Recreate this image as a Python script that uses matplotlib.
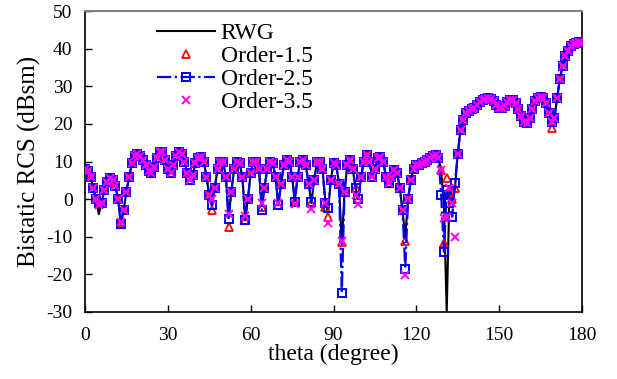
import matplotlib
matplotlib.use("Agg")
import matplotlib.pyplot as plt
import numpy as np

theta = list(range(0, 181))

rwg = [8, 7.5, 6, 3, 0, -4, -1, 2.5, 4.5, 5.5,
       5, 3.5, 0, -6.5, -3, 2, 6, 9.5, 11.5, 12,
       11.5, 10.5, 9, 7.5, 7, 8.5, 11, 12.5, 12.5, 10.5,
       8, 7, 9, 11.5, 12.5, 12, 10, 7, 5, 6.5,
       9.5, 11, 11.3, 10, 6, 1, -2, 3, 8, 10,
       10, 6, -5, 2, 8, 10, 9.5, 6, -5, 0,
       7, 10, 10, 8, -1, 3, 8, 10, 9.5, 6,
       -1.5, 4, 9, 10.5, 10, 6, -0.5, 6, 10, 10.3,
       9, 4, -1, 5, 10, 10, 8, 0, -4, 5,
       9.5, 9, 4, -12, 2, 9, 10.3, 8, 3, 0,
       6, 10, 11.7, 10, 6, 8, 11, 11.3, 10, 6,
       4.3, 6, 7.7, 7, 3, -3, -10, 0, 5, 8,
       9, 9, 9.5, 10, 10.5, 11, 11.5, 11.7, 11, 7.7,
       -2, -30, 2, -1, 3, 12, 18.5, 21, 23, 23.5,
       24, 24.3, 25, 25.7, 26.3, 26.7, 26.9, 26.7, 26, 25,
       24.3, 24.1, 24.8, 25.8, 26.3, 26.3, 25.5, 24, 22, 20.5,
       20.2, 21.5, 24, 26, 27, 27.2, 27, 25.5, 23, 20.5,
       21.5, 27, 32, 35.5, 38, 39.5, 40.8, 41.3, 41.6, 41.7, 41.6]

order15 = [8, 7.5, 6, 3, 0, -1, -1, 2.5, 4.5, 5.5,
           5, 3.5, 0, -6, -3, 2, 6, 9.5, 11.5, 12,
           11.5, 10.5, 9, 7.5, 7, 8.5, 11, 12.5, 12.5, 10.5,
           8, 7, 9, 11.5, 12.5, 12, 10, 7, 5, 6.5,
           9.5, 11, 11.3, 10, 6, 1, -3, 3, 8, 10,
           10, 6, -7.5, 2, 8, 10, 9.5, 6, -5.5, 0,
           7, 10, 10, 8, -2, 3, 8, 10, 9.5, 6,
           -1.5, 4, 9, 10.5, 10, 6, -0.5, 6, 10, 10.3,
           9, 4, -1, 5, 10, 10, 8, -2, -4.7, 5,
           9.5, 9, 4, -11.5, 2, 9, 10.3, 8, 3, 0,
           6, 10, 11.7, 10, 6, 8, 11, 11.3, 10, 6,
           4.3, 6, 7.7, 7, 3, -3, -11, 0, 5, 8,
           9, 9, 9.5, 10, 10.5, 11, 11.5, 11.7, 11, 7.7,
           -11.7, 5.6, 2, 0, 3, 12, 18.5, 21, 23, 23.5,
           24, 24.3, 25, 25.7, 26.3, 26.7, 26.9, 26.7, 26, 25,
           24.3, 24.1, 24.8, 25.8, 26.3, 26.3, 25.5, 24, 22, 20.5,
           20.2, 21.5, 24, 26, 27, 27.2, 27, 25.5, 23, 18.8,
           21.5, 27, 32, 35.5, 38, 39.5, 40.8, 41.3, 41.6, 41.7, 41.6]

order25 = [8, 7.5, 6, 3, 0, -1, -1, 2.5, 4.5, 5.5,
           5, 3.5, 0, -6.5, -3, 2, 6, 9.5, 11.5, 12,
           11.5, 10.5, 9, 7.5, 7, 8.5, 11, 12.5, 12.5, 10.5,
           8, 7, 9, 11.5, 12.5, 12, 10, 7, 5, 6.5,
           9.5, 11, 11.3, 10, 6, 1, -1.6, 3, 8, 10,
           10, 6, -5.3, 2, 8, 10, 9.5, 6, -5.6, 0,
           7, 10, 10, 8, -3, 3, 8, 10, 9.5, 6,
           -1.6, 4, 9, 10.5, 10, 6, -0.7, 6, 10, 10.3,
           9, 4, -0.7, 5, 10, 10, 8, -1, -2.4, 5,
           9.5, 9, 4, -25, 2, 9, 10.3, 8, 3, 0,
           6, 10, 11.7, 10, 6, 8, 11, 11.3, 10, 6,
           4.3, 6, 7.7, 7, 3, -3, -18.5, 0, 5, 8,
           9, 9, 9.5, 10, 10.5, 11, 11.5, 11.7, 11, 1,
           -14, 2.4, -1, -4.7, 4.3, 12, 18.5, 21, 23, 23.5,
           24, 24.3, 25, 25.7, 26.3, 26.7, 26.9, 26.7, 26, 25,
           24.3, 24.1, 24.8, 25.8, 26.3, 26.3, 25.5, 24, 22, 20.5,
           20.2, 21.5, 24, 26, 27, 27.2, 27, 25.5, 23, 20.5,
           21.5, 27, 32, 35.5, 38, 39.5, 40.8, 41.3, 41.6, 41.7, 41.6]

order35 = [8, 7.5, 6, 3, 0, -1.5, -1, 2.5, 4.5, 5.5,
           5, 3.5, 0, -6, -3, 2, 6, 9.5, 11.5, 12,
           11.5, 10.5, 9, 7.5, 7, 8.5, 11, 12.5, 12.5, 10.5,
           8, 7, 9, 11.5, 12.5, 12, 10, 7, 5, 6.5,
           9.5, 11, 11.3, 10, 6, 1, 0, 3, 8, 10,
           10, 6, -4, 2, 8, 10, 9.5, 6, -4.5, 0,
           7, 10, 10, 8, -1, 3, 8, 10, 9.5, 6,
           -1, 4, 9, 10.5, 10, 6, -1.3, 6, 10, 10.3,
           9, 4, -2.5, 5, 10, 10, 8, -1, -6.4, 5,
           9.5, 9, 4, -11, 2, 9, 10.3, 8, 1, -1.3,
           6, 10, 11.7, 10, 6, 8, 11, 11.3, 10, 6,
           4.3, 6, 7.7, 7, 3, -3, -20.2, 0, 5, 8,
           9, 9, 9.5, 10, 10.5, 11, 11.5, 11.7, 11, 7.7,
           -5, -4.7, 3, -1, -10, 12, 18.5, 21, 23, 23.5,
           24, 24.3, 25, 25.7, 26.3, 26.7, 26.9, 26.7, 26, 25,
           24.3, 24.1, 24.8, 25.8, 26.3, 26.3, 25.5, 24, 22, 20.5,
           20.2, 21.5, 24, 26, 27, 27.2, 27, 25.5, 23, 20.5,
           21.5, 27, 32, 35.5, 38, 39.5, 40.8, 41.3, 41.6, 41.7, 41.6]

xticks = [0, 30, 60, 90, 120, 150, 180]
yticks = [-30, -20, -10, 0, 10, 20, 30, 40, 50]

plt.rcParams['font.family'] = ['Liberation Serif', 'DejaVu Serif']
plt.rcParams['axes.unicode_minus'] = False

fig = plt.figure(figsize=(6.17, 3.79), dpi=100)
ax = fig.add_axes([85/617, 67/379, 497/617, 301/379])

ax.plot(theta, rwg, color='black', lw=1.5, label='RWG', zorder=2)
ax.plot(theta, order15, linestyle='none', marker='^', markersize=5.2,
        markerfacecolor='none', markeredgecolor='red', markeredgewidth=1.3,
        label='Order-1.5', zorder=3)
ax.plot(theta, order25, color='blue', linestyle='-.', lw=1.6, marker='s',
        markersize=6, markerfacecolor='none', markeredgecolor='blue',
        markeredgewidth=1.4, label='Order-2.5', zorder=4)
ax.plot(theta, order35, linestyle='none', marker='x', markersize=5.2,
        color='magenta', markeredgewidth=1.4, label='Order-3.5', zorder=5)

ax.set_xlim(0, 180)
ax.set_ylim(-30, 50)
ax.set_xticks(xticks)
ax.set_yticks(yticks)
ax.tick_params(direction='in', length=5, width=1, labelsize=14,
               top=False, right=False)
ax.tick_params(axis='x', pad=11)
ax.tick_params(axis='y', pad=9)
for s in ['left', 'bottom', 'right']:
    ax.spines[s].set_color('black')
    ax.spines[s].set_linewidth(1.2)
ax.spines['top'].set_color('#808080')
ax.spines['top'].set_linewidth(1.5)

ax.set_xlabel('theta (degree)', fontsize=17, labelpad=0)
ax.set_ylabel('Bistatic RCS (dBsm)', fontsize=18, labelpad=4)

ax.legend(loc='upper left', bbox_to_anchor=(0.145, 0.962), frameon=False,
          fontsize=17, handlelength=2.45, handletextpad=0.25,
          labelspacing=0.06, borderpad=0.0, borderaxespad=0)

fig.savefig('out.png', dpi=100)
